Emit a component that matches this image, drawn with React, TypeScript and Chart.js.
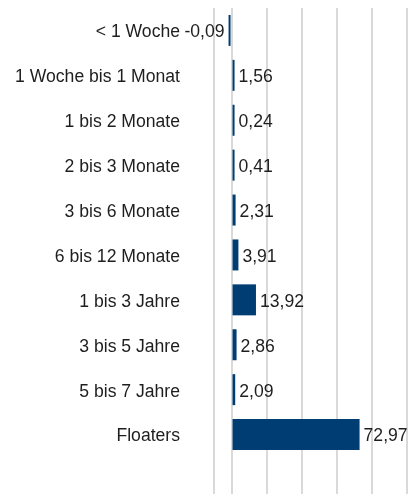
import React, { useEffect, useRef } from "react";
import { Chart, registerables } from "chart.js";

Chart.register(...registerables);

const categories = [
  "< 1 Woche",
  "1 Woche bis 1 Monat",
  "1 bis 2 Monate",
  "2 bis 3 Monate",
  "3 bis 6 Monate",
  "6 bis 12 Monate",
  "1 bis 3 Jahre",
  "3 bis 5 Jahre",
  "5 bis 7 Jahre",
  "Floaters",
];
const values = [-0.09, 1.56, 0.24, 0.41, 2.31, 3.91, 13.92, 2.86, 2.09, 72.97];
const gridTicks = [-10, 0, 20, 40, 60, 80, 100];

const FONT = "'Liberation Sans', Arial, sans-serif";
const FONT_SIZE = 17.6;
const TEXT_COLOR = "#1e1e1e";
const BAR_COLOR = "#003d73";
const GRID_COLOR = "#d9d9d9";

const fmt = (v: number) => v.toFixed(2).replace(".", ",");

const valueLabels = {
  id: "valueLabels",
  afterDatasetsDraw(chart: any) {
    const ctx = chart.ctx;
    const meta = chart.getDatasetMeta(0);
    ctx.save();
    ctx.font = `${FONT_SIZE}px ${FONT}`;
    ctx.fillStyle = TEXT_COLOR;
    ctx.textBaseline = "middle";
    meta.data.forEach((el: any, i: number) => {
      const v = values[i];
      const { x, y, base } = el.getProps(["x", "y", "base"], true);
      if (v >= 0) {
        ctx.textAlign = "left";
        ctx.fillText(fmt(v), Math.max(x, base) + 4, y + 2);
      } else {
        ctx.textAlign = "right";
        ctx.fillText(fmt(v), Math.min(x, base) - 4, y + 2);
      }
    });
    ctx.restore();
  },
};

export default function App() {
  const ref = useRef<HTMLCanvasElement | null>(null);
  useEffect(() => {
    if (!ref.current) return;
    const chart = new Chart(ref.current, {
      type: "bar",
      data: {
        labels: categories,
        datasets: [
          {
            data: values,
            backgroundColor: BAR_COLOR,
            borderWidth: 0,
            barPercentage: 0.69,
            categoryPercentage: 1,
            minBarLength: 3,
          },
        ],
      },
      options: {
        indexAxis: "y",
        animation: false,
        responsive: false,
        maintainAspectRatio: false,
        layout: { padding: { top: 8, right: 1, left: 0, bottom: 0 } },
        plugins: {
          legend: { display: false },
          tooltip: { enabled: false },
        },
        scales: {
          x: {
            type: "linear",
            min: -10,
            max: 100,
            afterBuildTicks: (scale: any) => {
              scale.ticks = gridTicks.map((v) => ({ value: v }));
            },
            afterFit: (scale: any) => {
              scale.height = 37;
              scale.paddingLeft = 0;
              scale.paddingRight = 0;
            },
            ticks: { display: false },
            grid: {
              color: GRID_COLOR,
              lineWidth: 2,
              drawTicks: true,
              tickLength: 37,
            },
            border: { display: false },
          },
          y: {
            type: "category",
            afterFit: (scale: any) => {
              scale.width = 214;
              scale.paddingTop = 0;
              scale.paddingBottom = 0;
            },
            grid: { display: false, drawTicks: false },
            border: { display: false },
            ticks: {
              padding: 34,
              labelOffset: 2,
              color: TEXT_COLOR,
              font: { family: FONT, size: FONT_SIZE },
              autoSkip: false,
            },
          },
        },
      },
      plugins: [valueLabels],
    });
    return () => chart.destroy();
  }, []);
  return (
    <div style={{ position: "absolute", left: 0, top: 0, width: 408, height: 494 }}>
      <canvas ref={ref} width={408} height={494} style={{ display: "block" }} />
    </div>
  );
}
